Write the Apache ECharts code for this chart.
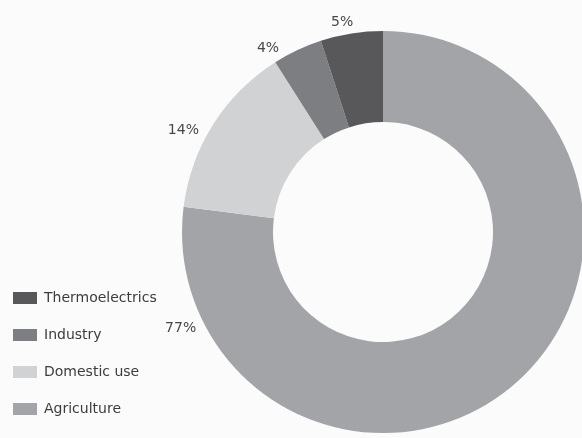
<!DOCTYPE html>
<html>
<head>
<meta charset="utf-8">
<script src="https://cdn.jsdelivr.net/npm/echarts@6/dist/echarts.min.js"></script>
<style>
  html, body { margin: 0; padding: 0; background: #fbfbfb; }
  #chart { width: 582px; height: 438px; }
</style>
</head>
<body>
<div id="chart"></div>
<script>
// Water use by sector (share of total withdrawals, %)
const categories = ['Agriculture', 'Domestic use', 'Industry', 'Thermoelectrics'];
const shares = [77, 14, 4, 5];
const legendOrder = ['Thermoelectrics', 'Industry', 'Domestic use', 'Agriculture'];

const sliceColors = {
  'Agriculture': '#a3a4a8',
  'Domestic use': '#d1d2d4',
  'Industry': '#7d7e81',
  'Thermoelectrics': '#58585a'
};

// Where each percentage label sits around the ring (degrees clockwise from 12 o'clock)
const labelAngles = [244.6, 297, 328, 349];
const labelRadius = [224, 224, 217, 214];

const cx = 383, cy = 232;
const font = 'DejaVu Sans';

const chart = echarts.init(document.getElementById('chart'), null, { renderer: 'canvas' });
chart.setOption({
  backgroundColor: '#fbfbfb',
  animation: false,
  legend: {
    orient: 'vertical',
    left: 8,
    top: 286,
    itemWidth: 24,
    itemHeight: 12,
    itemGap: 23,
    icon: 'rect',
    data: legendOrder,
    textStyle: { fontFamily: font, fontSize: 14, color: '#3c3c3e', padding: [0, 0, 0, 2] }
  },
  series: [{
    type: 'pie',
    center: [cx, cy],
    radius: [110, 201],
    startAngle: 90,
    clockwise: true,
    avoidLabelOverlap: false,
    data: categories.map((name, i) => ({
      name,
      value: shares[i],
      itemStyle: { color: sliceColors[name] }
    })),
    label: {
      show: true,
      formatter: '{c}%',
      fontFamily: font,
      fontSize: 14,
      color: '#48484a'
    },
    labelLine: { show: false },
    labelLayout: function (params) {
      const i = params.dataIndex;
      const a = labelAngles[i] * Math.PI / 180;
      const r = labelRadius[i];
      return {
        x: cx + r * Math.sin(a),
        y: cy - r * Math.cos(a),
        align: 'center',
        verticalAlign: 'middle'
      };
    },
    emphasis: { disabled: true }
  }]
});
</script>
</body>
</html>
